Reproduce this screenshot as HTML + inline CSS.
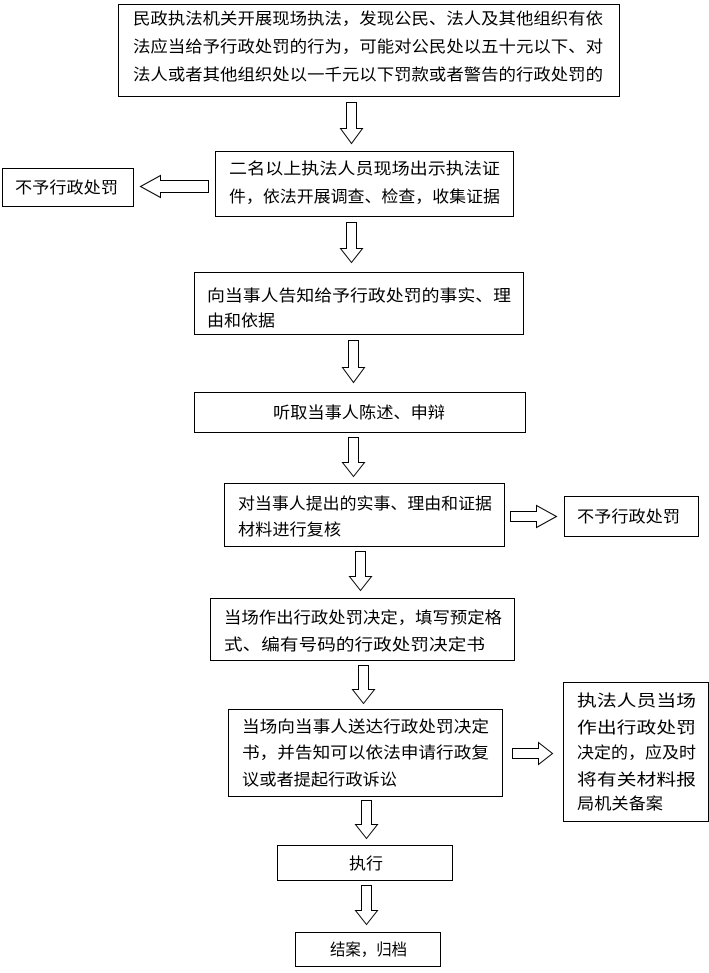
<!DOCTYPE html>
<html><head><meta charset="utf-8"><style>
body{margin:0;background:#fff;width:709px;height:968px;overflow:hidden}
svg text{font-family:"Liberation Sans","SimSun","Noto Sans CJK SC",sans-serif;font-size:16px;fill:#000}
</style></head><body>
<svg width="709" height="968" xmlns="http://www.w3.org/2000/svg">
<g fill="#fff" stroke="#000" stroke-width="1">
<rect x="118.5" y="4.5" width="501" height="92"/>
<rect x="215.5" y="151.5" width="298" height="65"/>
<rect x="2.5" y="168.5" width="131" height="38"/>
<rect x="194.5" y="272.5" width="329" height="62"/>
<rect x="194.5" y="392.5" width="331" height="40"/>
<rect x="224.5" y="483.5" width="280" height="63"/>
<rect x="564.5" y="496.5" width="134" height="40"/>
<rect x="210.5" y="598.5" width="304" height="62"/>
<rect x="228.5" y="709.5" width="274" height="87"/>
<rect x="563.5" y="682.5" width="145" height="139"/>
<rect x="277.5" y="845.5" width="175" height="35"/>
<rect x="295.5" y="932.5" width="145" height="34"/>
<path d="M346.5 102.5H356.5V128.5H362.5L351.5 143.5L340.5 128.5H346.5Z"/>
<path d="M346.5 222.5H356.5V248.5H362.5L351.5 262.5L340.5 248.5H346.5Z"/>
<path d="M348.5 340.5H358.5V367.5H364.5L353.5 382.5L342.5 367.5H348.5Z"/>
<path d="M348.5 437.5H358.5V462.5H364.5L353.5 476.5L342.5 462.5H348.5Z"/>
<path d="M355.5 551.5H365.5V576.5H371.5L360.5 590.5L349.5 576.5H355.5Z"/>
<path d="M358.5 665.5H368.5V689.5H374.5L363.5 703.5L352.5 689.5H358.5Z"/>
<path d="M361.5 800.5H371.5V824.5H377.5L366.5 838.5L355.5 824.5H361.5Z"/>
<path d="M361.5 885.5H371.5V910.5H377.5L366.5 924.5L355.5 910.5H361.5Z"/>
<path d="M208.5 180.5V192.5H160.5V197.5L140.5 186.5L160.5 175.5V180.5Z"/>
<path d="M510.5 511.5H536.5V505.5L556.5 516.5L536.5 527.5V521.5H510.5Z"/>
<path d="M512.5 748.5H538.5V742.5L552.5 753.5L538.5 764.5V758.5H512.5Z"/>
</g>
<text x="133" y="24" textLength="470" lengthAdjust="spacingAndGlyphs">民政执法机关开展现场执法，发现公民、法人及其他组织有依</text>
<text x="133" y="52" textLength="470" lengthAdjust="spacingAndGlyphs">法应当给予行政处罚的行为，可能对公民处以五十元以下、对</text>
<text x="133" y="80" textLength="470" lengthAdjust="spacingAndGlyphs">法人或者其他组织处以一千元以下罚款或者警告的行政处罚的</text>
<text x="229" y="174" textLength="271" lengthAdjust="spacingAndGlyphs">二名以上执法人员现场出示执法证</text>
<text x="229" y="202" textLength="271" lengthAdjust="spacingAndGlyphs">件，依法开展调查、检查，收集证据</text>
<text x="15" y="193" textLength="103" lengthAdjust="spacingAndGlyphs">不予行政处罚</text>
<text x="207" y="301" textLength="304" lengthAdjust="spacingAndGlyphs">向当事人告知给予行政处罚的事实、理</text>
<text x="207" y="326" textLength="68" lengthAdjust="spacingAndGlyphs">由和依据</text>
<text x="273" y="418" textLength="172" lengthAdjust="spacingAndGlyphs">听取当事人陈述、申辩</text>
<text x="238" y="509" textLength="254" lengthAdjust="spacingAndGlyphs">对当事人提出的实事、理由和证据</text>
<text x="238" y="535" textLength="103" lengthAdjust="spacingAndGlyphs">材料进行复核</text>
<text x="577" y="522" textLength="103" lengthAdjust="spacingAndGlyphs">不予行政处罚</text>
<text x="224" y="623" textLength="278" lengthAdjust="spacingAndGlyphs">当场作出行政处罚决定，填写预定格</text>
<text x="224" y="650" textLength="261" lengthAdjust="spacingAndGlyphs">式、编有号码的行政处罚决定书</text>
<text x="242" y="732" textLength="247" lengthAdjust="spacingAndGlyphs">当场向当事人送达行政处罚决定</text>
<text x="242" y="758" textLength="247" lengthAdjust="spacingAndGlyphs">书，并告知可以依法申请行政复</text>
<text x="242" y="785" textLength="155" lengthAdjust="spacingAndGlyphs">议或者提起行政诉讼</text>
<text x="577" y="706" textLength="119" lengthAdjust="spacingAndGlyphs">执法人员当场</text>
<text x="577" y="733" textLength="119" lengthAdjust="spacingAndGlyphs">作出行政处罚</text>
<text x="577" y="758" textLength="119" lengthAdjust="spacingAndGlyphs">决定的，应及时</text>
<text x="577" y="785" textLength="119" lengthAdjust="spacingAndGlyphs">将有关材料报</text>
<text x="577" y="809" textLength="86" lengthAdjust="spacingAndGlyphs">局机关备案</text>
<text x="349" y="869" textLength="34" lengthAdjust="spacingAndGlyphs">执行</text>
<text x="330" y="955" textLength="77" lengthAdjust="spacingAndGlyphs">结案，归档</text>
</svg>
</body></html>
